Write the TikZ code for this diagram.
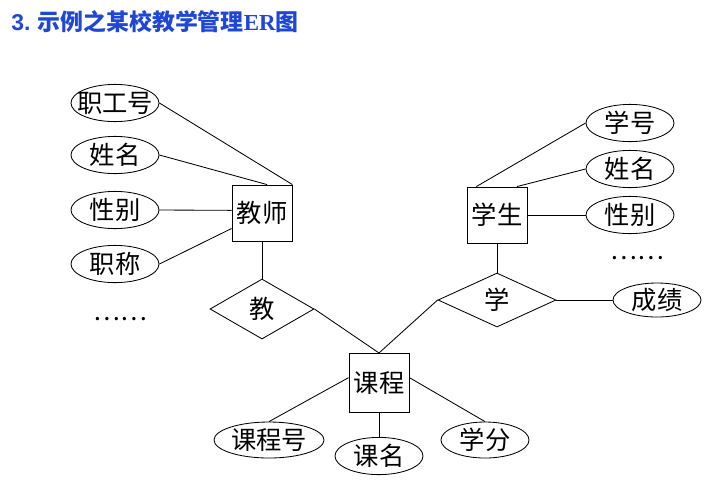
\documentclass[tikz,border=0pt]{standalone}
\usepackage{fontspec}
\newfontfamily\cjk{Noto Sans CJK SC}
\newfontfamily\latinsf{Liberation Sans}
\newfontfamily\latinrm{Liberation Serif}
\usetikzlibrary{shapes.geometric}
\definecolor{titleblue}{RGB}{30,70,215}

\begin{document}
\begin{tikzpicture}[x=0.025cm,y=-0.025cm,semithick,
  every node/.style={font=\cjk\fontsize{18}{20}\selectfont},
  attr/.style={draw,ellipse,inner sep=0pt,minimum width=2.2cm,minimum height=0.93cm},
  entity/.style={draw,rectangle,inner sep=0pt,minimum width=1.5cm,minimum height=1.4cm},
  relation/.style={draw,diamond,inner sep=0pt}]
\useasboundingbox (0,0) rectangle (723,483);

\node[anchor=west,inner sep=0pt,text=titleblue,font=\cjk\bfseries\fontsize{16.3}{18}\selectfont] (title) at (11,22)
  {{\latinsf 3.} 示例之某校教学管理{\latinrm ER}图};

% teacher side
\node[attr,inner xsep=-5pt] (tzgh) at (115,103) {职工号};
\node[attr] (txm) at (115,155) {姓名};
\node[attr] (txb) at (115,210) {性别};
\node[attr] (tzc) at (115,264) {职称};
\node (tdots) at (120,319) {……};
\node[entity] (js) at (262,213) {教师};
\node[relation,minimum width=2.6cm,minimum height=1.5cm] (jiao) at (262,309) {教};

% student side
\node[entity] (xs) at (497,215) {学生};
\node[attr] (sxh) at (630,123) {学号};
\node[attr] (sxm) at (630,169) {姓名};
\node[attr] (sxb) at (630,215) {性别};
\node (sdots) at (637,258) {……};
\node[relation,minimum width=2.95cm,minimum height=1.35cm] (xue) at (497,300) {学};
\node[attr,minimum height=0.85cm] (cj) at (657,300) {成绩};

% course
\node[entity,minimum height=1.48cm] (kc) at (379,383) {课程};
\node[attr,minimum width=2.75cm,minimum height=0.9cm] (kch) at (269,440) {课程号};
\node[attr] (km) at (379,456) {课名};
\node[attr,minimum height=0.9cm] (xf) at (485,440) {学分};

\draw (tzgh.east) -- (js.north east);
\draw (txm.east) -- (js.80);
\draw (txb.east) -- (js.175);
\draw (tzc.east) -- (js.207);
\draw (js.south) -- (jiao.north);
\draw (jiao.east) -- (kc.north);

\draw (sxh.west) -- (xs.126);
\draw (sxm.west) -- (xs.55);
\draw (sxb.west) -- (xs.east);
\draw (xs.south) -- (xue.north);
\draw (xue.east) -- (cj.west);
\draw (xue.west) -- (kc.north);

\draw (kc.170) -- (kch.north);
\draw (kc.south) -- (km.north);
\draw (kc.10) -- (xf.north);
\end{tikzpicture}
\end{document}
